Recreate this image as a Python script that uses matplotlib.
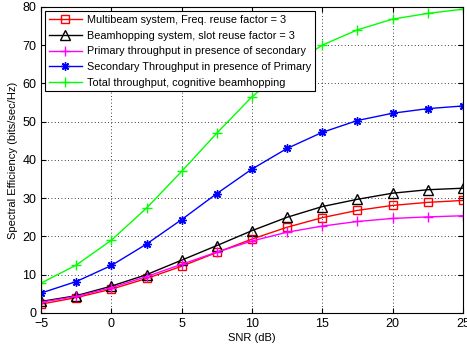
import matplotlib
matplotlib.use("Agg")
import matplotlib.pyplot as plt

plt.rcParams["font.family"] = ["Liberation Sans", "DejaVu Sans"]

snr_db = [-5, -2.5, 0, 2.5, 5, 7.5, 10, 12.5, 15, 17.5, 20, 22.5, 25]

multibeam = [2.3, 4.0, 6.2, 9.0, 12.2, 15.8, 19.3, 22.4, 24.9, 26.8, 28.1, 28.9, 29.4]
beamhop = [3.0, 4.5, 7.0, 10.0, 13.8, 17.6, 21.5, 25.0, 27.8, 29.7, 31.3, 32.2, 32.6]
primary = [2.8, 4.3, 6.6, 9.5, 12.7, 15.9, 18.8, 21.1, 22.7, 23.9, 24.7, 25.1, 25.4]
secondary = [5.2, 8.2, 12.4, 18.0, 24.4, 31.2, 37.6, 43.0, 47.2, 50.3, 52.2, 53.4, 54.1]
total = [7.8, 12.5, 19.0, 27.4, 37.0, 47.0, 56.5, 64.0, 70.0, 74.0, 76.8, 78.3, 79.4]

labels = [
    "Multibeam system, Freq. reuse factor = 3",
    "Beamhopping system, slot reuse factor = 3",
    "Primary throughput in presence of secondary",
    "Secondary Throughput in presence of Primary",
    "Total throughput, cognitive beamhopping",
]

fig = plt.figure(figsize=(4.67, 3.45), dpi=100)
ax = fig.add_axes([0.088, 0.093, 0.903, 0.887])

ax.plot(snr_db, multibeam, color="#ff0000", marker="s", mfc="none", ms=6, lw=1, label=labels[0])
ax.plot(snr_db, beamhop, color="black", marker="^", mfc="none", ms=7, lw=1, label=labels[1])
ax.plot(snr_db, primary, color="#ff00ff", marker="+", ms=7, lw=1, label=labels[2])
ax.plot(snr_db, secondary, color="#0000ff", marker=(8, 2, 0), ms=6, lw=1, label=labels[3])
ax.plot(snr_db, total, color="#00ff00", marker="+", ms=7, lw=1, label=labels[4])

ax.set_xlim(-5, 25)
ax.set_ylim(0, 80)
ax.set_xticks(range(-5, 26, 5))
ax.set_yticks(range(0, 81, 10))
ax.grid(True, ls=(0, (1, 3)), color="black", lw=0.6)
ax.tick_params(direction="in", top=True, right=True, labelsize=9)
ax.set_xlabel("SNR (dB)", fontsize=8, labelpad=2)
ax.set_ylabel("Spectral Efficiency (bits/sec/Hz)", fontsize=8, labelpad=3)

leg = ax.legend(loc="upper left", fontsize=7.8, fancybox=False, framealpha=1,
                edgecolor="black", handlelength=3, handletextpad=0.5,
                borderaxespad=0.4, labelspacing=0.52, borderpad=0.35)
leg.get_frame().set_linewidth(0.8)

fig.savefig("out.png", dpi=100)
